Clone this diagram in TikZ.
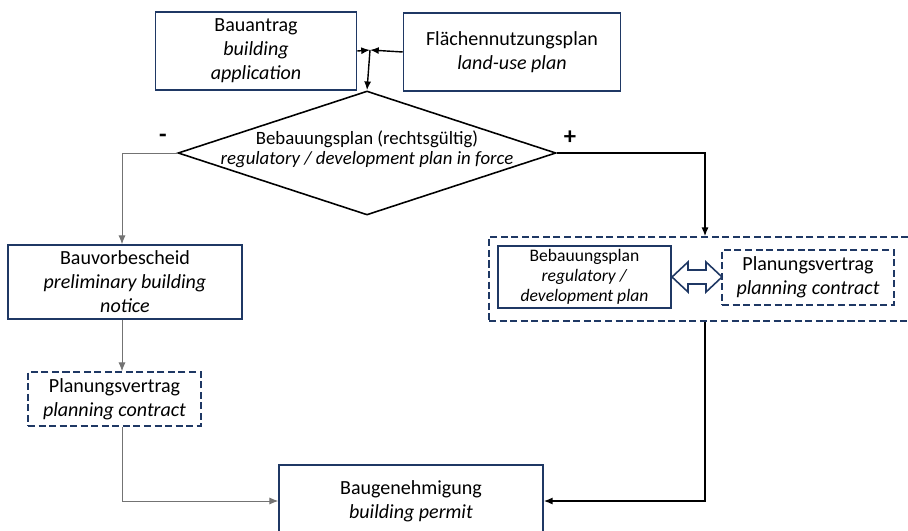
\documentclass[tikz,border=0pt]{standalone}
\usepackage{fontspec}
\setmainfont{Carlito}
\usetikzlibrary{arrows.meta,shapes.geometric,positioning}
\definecolor{boxblue}{HTML}{1F3864}
\tikzset{
  box/.style={draw=boxblue, line width=0.9pt, align=center, inner sep=2pt, font=\fontsize{11.4}{13.6}\selectfont},
  dashbox/.style={box, dash pattern=on 4pt off 2pt},
  conn/.style={line width=0.8pt, -{Latex[length=5pt,width=4pt]}},
  grayconn/.style={draw=black!55, line width=0.5pt, -{Latex[length=5pt,width=4pt]}},
}
\begin{document}
\begin{tikzpicture}[x=0.02cm,y=-0.02cm]
			%%%%% START %%%%%
			\useasboundingbox (0,0) rectangle (908,530);
			\coordinate (join) at (370,50);
			\coordinate (leftline) at (122,0);
			\coordinate (rightline) at (705,0);

			\node[box, minimum width=4.02cm, minimum height=1.56cm] (antrag) at (256,51) {Bauantrag\\\textit{building}\\\textit{application}};
			\node[box, minimum width=4.34cm, minimum height=1.56cm] (fnp) at (512,52) {Flächennutzungsplan\\\textit{land-use plan}};

			\node[diamond, draw, line width=0.9pt, minimum width=7.56cm, minimum height=2.48cm, inner sep=0pt] (check) at (367,153) {};
			\node[align=center, font=\fontsize{10.7}{11.5}\selectfont] (checktxt) at (367,149) {Bebauungsplan (rechtsgültig)\\\textit{regulatory / development plan in force}};
			\node[font=\bfseries\fontsize{14}{14}\selectfont] (minus) at (163,138) {-};
			\node[font=\bfseries\fontsize{14}{14}\selectfont] (plus) at (570,138) {+};

			\node[box, minimum width=4.68cm, minimum height=1.48cm] (vorbescheid) at (125,282) {Bauvorbescheid\\\textit{preliminary building}\\\textit{notice}};
			\node[dashbox, minimum width=3.46cm, minimum height=1.08cm] (vertragL) at (114.5,399) {Planungsvertrag\\\textit{planning contract}};

			\node[dashbox, minimum width=8.52cm, minimum height=1.68cm] (group) at (702,279) {};
			\node[box, minimum width=3.46cm, minimum height=1.1cm, font=\fontsize{10}{11.3}\selectfont] (bplan) at (584.5,277) {Bebauungsplan\\\textit{regulatory /}\\\textit{development plan}};
			\node[dashbox, minimum width=3.44cm, minimum height=1.1cm] (vertragR) at (808,277.5) {Planungsvertrag\\\textit{planning contract}};
			\draw[draw=boxblue, line width=0.9pt, fill=white] (672,277) -- (688,262) -- (688,270) -- (706,270) -- (706,262) -- (722,277) -- (706,292) -- (706,284) -- (688,284) -- (688,292) -- cycle;

			\node[box, minimum width=5.28cm, minimum height=1.44cm] (permit) at (411,501) {Baugenehmigung\\\textit{building permit}};

			\draw[conn] (antrag.east) -- (join);
			\draw[conn] (fnp.west) -- (join);
			\draw[conn] (join) -- (check.north);
			\draw[grayconn] (check.west) -| (leftline |- vorbescheid.north);
			\draw[conn] (check.east) -| (rightline |- group.north);
			\draw[grayconn] (leftline |- vorbescheid.south) -- (leftline |- vertragL.north);
			\draw[grayconn] (leftline |- vertragL.south) |- (permit.west);
			\draw[conn] (rightline |- group.south) |- (permit.east);
			%%%%% END %%%%%
\end{tikzpicture}
\end{document}
